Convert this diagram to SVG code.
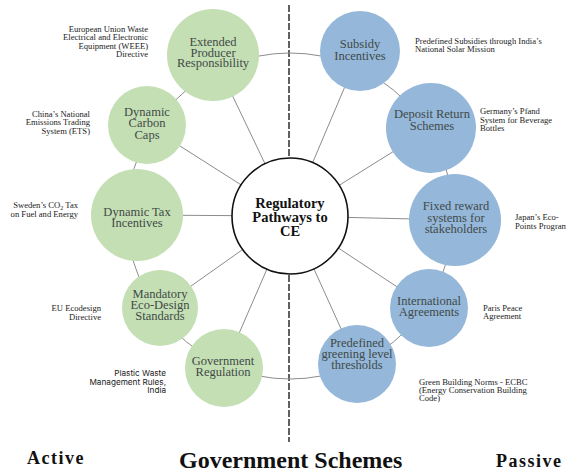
<svg xmlns="http://www.w3.org/2000/svg" width="566" height="473" viewBox="0 0 566 473">
  <style>
    .bg { fill: #ffffff; }
    .ring { fill: none; stroke: #8c8c8c; stroke-width: 1; }
    .spoke { stroke: #8c8c8c; stroke-width: 1; }
    .divider { stroke: #3a3a3a; stroke-width: 1.6; stroke-dasharray: 7 2; }
    .active-node { fill: #c5dfb4; }
    .passive-node { fill: #95b7d9; }
    .hub { fill: #ffffff; stroke: #111111; stroke-width: 1.6; }
    .node-label { font-family: "Liberation Serif", "Times New Roman", serif; font-size: 12.5px; fill: #3f4a48; text-anchor: middle; }
    .hub-label { font-family: "Liberation Serif", "Times New Roman", serif; font-size: 14.5px; font-weight: bold; fill: #111111; text-anchor: middle; }
    .note { font-family: "Liberation Serif", "Times New Roman", serif; font-size: 8.6px; fill: #222222; }
    .note-sans { font-family: Inter, "Liberation Sans", sans-serif; font-size: 8.2px; fill: #222222; }
    .end { text-anchor: end; }
    .side-title { font-family: "Liberation Serif", "Times New Roman", serif; font-size: 18px; font-weight: bold; fill: #111111; letter-spacing: 1.5px; }
    .main-title { font-family: "Liberation Serif", "Times New Roman", serif; font-size: 24px; font-weight: bold; fill: #111111; }
  </style>

  <rect class="bg" x="0" y="0" width="566" height="473"/>

  <!-- dashed divider between active and passive schemes -->
  <line class="divider" x1="289" y1="5" x2="289" y2="442"/>

  <!-- connectors: outer ring and spokes from the hub -->
  <g id="connectors">
    <circle class="ring" cx="290" cy="216" r="163"/>
    <line class="spoke" x1="290" y1="216" x2="213" y2="55"/>
    <line class="spoke" x1="290" y1="216" x2="147" y2="125"/>
    <line class="spoke" x1="290" y1="216" x2="137" y2="215"/>
    <line class="spoke" x1="290" y1="216" x2="160" y2="308"/>
    <line class="spoke" x1="290" y1="216" x2="224" y2="368"/>
    <line class="spoke" x1="290" y1="216" x2="360" y2="51"/>
    <line class="spoke" x1="290" y1="216" x2="431" y2="128"/>
    <line class="spoke" x1="290" y1="216" x2="455" y2="220"/>
    <line class="spoke" x1="290" y1="216" x2="429" y2="308"/>
    <line class="spoke" x1="290" y1="216" x2="357" y2="364"/>
  </g>

  <!-- hub -->
  <g id="hub">
    <circle class="hub" cx="290" cy="216" r="58"/>
    <text class="hub-label" x="290" y="208">Regulatory</text>
    <text class="hub-label" x="290" y="222">Pathways to</text>
    <text class="hub-label" x="290" y="236">CE</text>
  </g>

  <!-- active instruments -->
  <g id="extended-producer-responsibility">
    <circle class="active-node" cx="213" cy="55" r="46"/>
    <text class="node-label" x="213" y="46">Extended</text>
    <text class="node-label" x="213" y="56.5">Producer</text>
    <text class="node-label" x="213" y="67">Responsibility</text>
    <text class="note end" x="148" y="32">European Union Waste</text>
    <text class="note end" x="148" y="40.3">Electrical and Electronic</text>
    <text class="note end" x="148" y="48.6">Equipment (WEEE)</text>
    <text class="note end" x="148" y="57">Directive</text>
  </g>

  <g id="dynamic-carbon-caps">
    <circle class="active-node" cx="147" cy="125" r="39"/>
    <text class="node-label" x="147" y="116">Dynamic</text>
    <text class="node-label" x="147" y="127">Carbon</text>
    <text class="node-label" x="147" y="138.5">Caps</text>
    <text class="note end" x="90" y="117">China’s National</text>
    <text class="note end" x="90" y="125.3">Emissions Trading</text>
    <text class="note end" x="90" y="133.6">System (ETS)</text>
  </g>

  <g id="dynamic-tax-incentives">
    <circle class="active-node" cx="137" cy="215" r="46"/>
    <text class="node-label" x="137" y="216">Dynamic Tax</text>
    <text class="node-label" x="137" y="227">Incentives</text>
    <text class="note end" x="78" y="208">Sweden’s CO<tspan font-size="6" dy="2">2</tspan><tspan dy="-2"> Tax</tspan></text>
    <text class="note end" x="78" y="217">on Fuel and Energy</text>
  </g>

  <g id="mandatory-eco-design-standards">
    <circle class="active-node" cx="160" cy="308" r="38"/>
    <text class="node-label" x="160" y="298">Mandatory</text>
    <text class="node-label" x="160" y="309">Eco-Design</text>
    <text class="node-label" x="160" y="320">Standards</text>
    <text class="note end" x="101" y="311">EU Ecodesign</text>
    <text class="note end" x="101" y="319.5">Directive</text>
  </g>

  <g id="government-regulation">
    <circle class="active-node" cx="224" cy="368" r="39"/>
    <text class="node-label" x="223" y="365">Government</text>
    <text class="node-label" x="223" y="376">Regulation</text>
    <text class="note-sans end" x="166" y="376">Plastic Waste</text>
    <text class="note-sans end" x="166" y="384.5">Management Rules,</text>
    <text class="note-sans end" x="166" y="393">India</text>
  </g>

  <!-- passive instruments -->
  <g id="subsidy-incentives">
    <circle class="passive-node" cx="360" cy="51" r="40"/>
    <text class="node-label" x="360" y="48">Subsidy</text>
    <text class="node-label" x="360" y="59.5">Incentives</text>
    <text class="note" x="415" y="44">Predefined Subsidies through India’s</text>
    <text class="note" x="415" y="52.3">National Solar Mission</text>
  </g>

  <g id="deposit-return-schemes">
    <circle class="passive-node" cx="431" cy="128" r="45"/>
    <text class="node-label" x="432" y="118">Deposit Return</text>
    <text class="node-label" x="432" y="130">Schemes</text>
    <text class="note" x="480" y="114">Germany’s Pfand</text>
    <text class="note" x="480" y="122.5">System for Beverage</text>
    <text class="note" x="480" y="131">Bottles</text>
  </g>

  <g id="fixed-reward-systems">
    <circle class="passive-node" cx="455" cy="220" r="46"/>
    <text class="node-label" x="456" y="210">Fixed reward</text>
    <text class="node-label" x="456" y="221.5">systems for</text>
    <text class="node-label" x="456" y="233">stakeholders</text>
    <text class="note" x="515" y="220">Japan’s Eco-</text>
    <text class="note" x="515" y="228.5">Points Program</text>
  </g>

  <g id="international-agreements">
    <circle class="passive-node" cx="429" cy="308" r="39"/>
    <text class="node-label" x="429" y="305">International</text>
    <text class="node-label" x="429" y="316">Agreements</text>
    <text class="note" x="483" y="311">Paris Peace</text>
    <text class="note" x="483" y="318.5">Agreement</text>
  </g>

  <g id="predefined-greening-thresholds">
    <circle class="passive-node" cx="357" cy="364" r="39"/>
    <text class="node-label" x="357" y="347">Predefined</text>
    <text class="node-label" x="357" y="358">greening level</text>
    <text class="node-label" x="357" y="369">thresholds</text>
    <text class="note" x="419" y="385">Green Building Norms - ECBC</text>
    <text class="note" x="419" y="393">(Energy Conservation Building</text>
    <text class="note" x="419" y="401">Code)</text>
  </g>

  <!-- axis titles -->
  <text class="side-title" x="27" y="464">Active</text>
  <text class="main-title" x="179" y="468">Government Schemes</text>
  <text class="side-title" x="496" y="467" letter-spacing="2">Passive</text>
</svg>
